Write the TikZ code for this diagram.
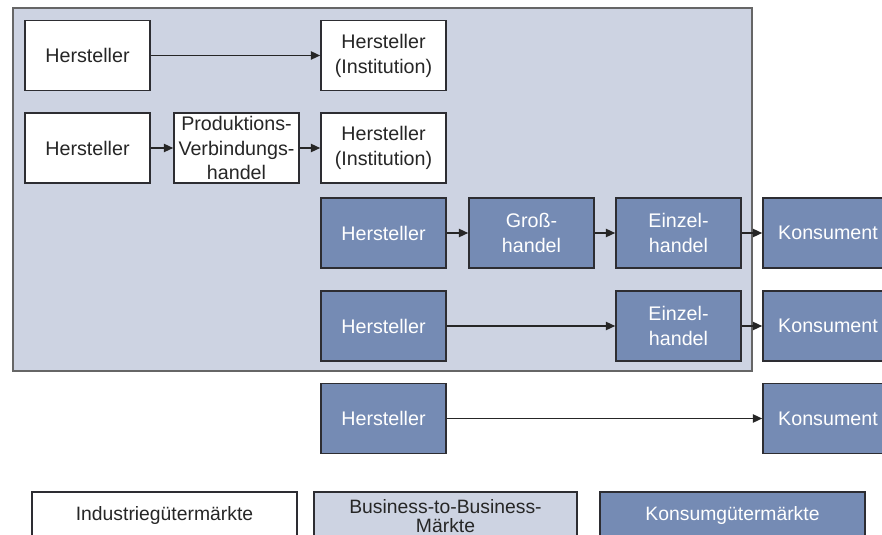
\documentclass[tikz,border=0pt]{standalone}
\usepackage{fontspec}
\setmainfont{Liberation Sans}
\usetikzlibrary{arrows.meta}
\definecolor{btobgray}{RGB}{205,211,226}
\definecolor{konblue}{RGB}{117,139,180}
\definecolor{boxline}{RGB}{45,45,50}
\tikzset{
  box/.style={draw=boxline, line width=1.3pt, minimum width=3.75cm, minimum height=2.1cm,
    align=center, inner sep=1pt, font=\fontsize{16.8}{21.3}\selectfont},
  indbox/.style={box, fill=white, text=black!85},
  konbox/.style={box, fill=konblue, text=white},
  legbox/.style={box, minimum width=7.95cm, minimum height=1.44cm, font=\fontsize{16.5}{16.5}\selectfont},
  flow/.style={line width=1.5pt, black!85, -{Triangle[length=8pt, width=7pt]}}
}
\begin{document}
\begin{tikzpicture}[x=0.03cm, y=-0.03cm]
    \useasboundingbox (0, 0) rectangle (882, 535);
    \clip (0, 0) rectangle (882, 535);
    % Business-to-Business area
    \draw[draw=black!60, line width=1.2pt, fill=btobgray] (13, 8) rectangle (752, 371);
    % row 1
    \node[indbox] (h1) at (87.5, 55.5) {Hersteller};
    \node[indbox] (inst1) at (383.5, 55.5) {Hersteller\\(Institution)};
    % row 2
    \node[indbox] (h2) at (87.5, 148) {Hersteller};
    \node[indbox] (pvh) at (236.5, 148) {Produktions-\\Verbindungs-\\handel};
    \node[indbox] (inst2) at (383.5, 148) {Hersteller\\(Institution)};
    % row 3
    \node[konbox] (h3) at (383.5, 233) {Hersteller};
    \node[konbox] (gh) at (531.5, 233) {Groß-\\handel};
    \node[konbox] (eh3) at (678.5, 233) {Einzel-\\handel};
    \node[konbox, minimum width=3.9cm] (k3) at (828, 233) {Konsument};
    % row 4
    \node[konbox] (h4) at (383.5, 326) {Hersteller};
    \node[konbox] (eh4) at (678.5, 326) {Einzel-\\handel};
    \node[konbox, minimum width=3.9cm] (k4) at (828, 326) {Konsument};
    % row 5
    \node[konbox] (h5) at (383.5, 418.5) {Hersteller};
    \node[konbox, minimum width=3.9cm] (k5) at (828, 418.5) {Konsument};
    % legend
    \node[legbox, fill=white, text=black!85] (legind) at (164.5, 516) {Industriegütermärkte};
    \node[legbox, fill=btobgray, text=black!85, minimum width=7.89cm] (legbtob) at (445.5, 516) {Business-to-Business-\\Märkte};
    \node[legbox, fill=konblue, text=white] (legkon) at (732.5, 516) {Konsumgütermärkte};
    % channels
    \draw[flow] (h1) -- (inst1);
    \draw[flow] (h2) -- (pvh);
    \draw[flow] (pvh) -- (inst2);
    \draw[flow] (h3) -- (gh);
    \draw[flow] (gh) -- (eh3);
    \draw[flow] (eh3) -- (k3);
    \draw[flow] (h4) -- (eh4);
    \draw[flow] (eh4) -- (k4);
    \draw[flow] (h5) -- (k5);
  \end{tikzpicture}
\end{document}
